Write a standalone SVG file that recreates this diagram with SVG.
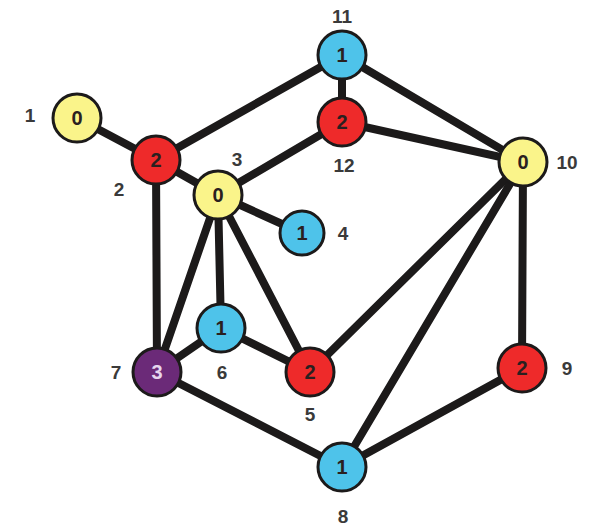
<svg xmlns="http://www.w3.org/2000/svg" width="590" height="529" viewBox="0 0 590 529">
<style>
.e{stroke:#1c1a1a;stroke-width:8;stroke-linecap:round}
.n{stroke:#1c1a1a;stroke-width:3}
.y{fill:#faf48a}.r{fill:#ee2a2a}.c{fill:#4ec3ea}.p{fill:#6b2a78}
.v{font-family:"Liberation Sans",Arial,sans-serif;font-weight:bold;font-size:20px;fill:#2a2020;text-anchor:middle}
.w{fill:#e6d6ee}
.l{font-family:"Liberation Sans",Arial,sans-serif;font-weight:bold;font-size:19px;fill:#3a3a3a;text-anchor:middle}
</style>
<rect width="590" height="529" fill="#ffffff"/>
<g id="connectors">
<line class="e" x1="77" y1="118" x2="156" y2="160"/>
<line class="e" x1="156" y1="160" x2="342" y2="55"/>
<line class="e" x1="156" y1="160" x2="218" y2="195"/>
<line class="e" x1="156" y1="160" x2="157" y2="372"/>
<line class="e" x1="218" y1="195" x2="342" y2="122"/>
<line class="e" x1="218" y1="195" x2="302" y2="233"/>
<line class="e" x1="218" y1="195" x2="221" y2="328"/>
<line class="e" x1="218" y1="195" x2="157" y2="372"/>
<line class="e" x1="218" y1="195" x2="310" y2="372"/>
<line class="e" x1="342" y1="55" x2="342" y2="122"/>
<line class="e" x1="342" y1="55" x2="523" y2="162"/>
<line class="e" x1="342" y1="122" x2="523" y2="162"/>
<line class="e" x1="523" y1="162" x2="310" y2="372"/>
<line class="e" x1="523" y1="162" x2="342" y2="467"/>
<line class="e" x1="523" y1="162" x2="522" y2="368"/>
<line class="e" x1="522" y1="368" x2="342" y2="467"/>
<line class="e" x1="157" y1="372" x2="342" y2="467"/>
<line class="e" x1="157" y1="372" x2="221" y2="328"/>
<line class="e" x1="221" y1="328" x2="310" y2="372"/>
</g>
<g id="node1"><circle class="n y" cx="77" cy="118" r="24"/><text class="v" x="77" y="125">0</text><text class="l" x="30" y="122">1</text></g>
<g id="node2"><circle class="n r" cx="156" cy="160" r="24"/><text class="v" x="156" y="167">2</text><text class="l" x="119" y="196">2</text></g>
<g id="node3"><circle class="n y" cx="218" cy="195" r="24"/><text class="v" x="218" y="202">0</text><text class="l" x="237" y="166">3</text></g>
<g id="node4"><circle class="n c" cx="302" cy="233" r="22"/><text class="v" x="302" y="240">1</text><text class="l" x="343" y="240">4</text></g>
<g id="node5"><circle class="n r" cx="310" cy="372" r="24"/><text class="v" x="310" y="379">2</text><text class="l" x="310" y="421">5</text></g>
<g id="node6"><circle class="n c" cx="221" cy="328" r="24"/><text class="v" x="221" y="335">1</text><text class="l" x="222" y="379">6</text></g>
<g id="node7"><circle class="n p" cx="157" cy="372" r="24"/><text class="v w" x="157" y="379">3</text><text class="l" x="116" y="379">7</text></g>
<g id="node8"><circle class="n c" cx="342" cy="467" r="24"/><text class="v" x="342" y="474">1</text><text class="l" x="343" y="523">8</text></g>
<g id="node9"><circle class="n r" cx="522" cy="368" r="24"/><text class="v" x="522" y="375">2</text><text class="l" x="567" y="375">9</text></g>
<g id="node10"><circle class="n y" cx="523" cy="162" r="24"/><text class="v" x="523" y="169">0</text><text class="l" x="567" y="169">10</text></g>
<g id="node11"><circle class="n c" cx="342" cy="55" r="24"/><text class="v" x="342" y="62">1</text><text class="l" x="342" y="23">11</text></g>
<g id="node12"><circle class="n r" cx="342" cy="122" r="24"/><text class="v" x="342" y="129">2</text><text class="l" x="344" y="172">12</text></g>
</svg>
